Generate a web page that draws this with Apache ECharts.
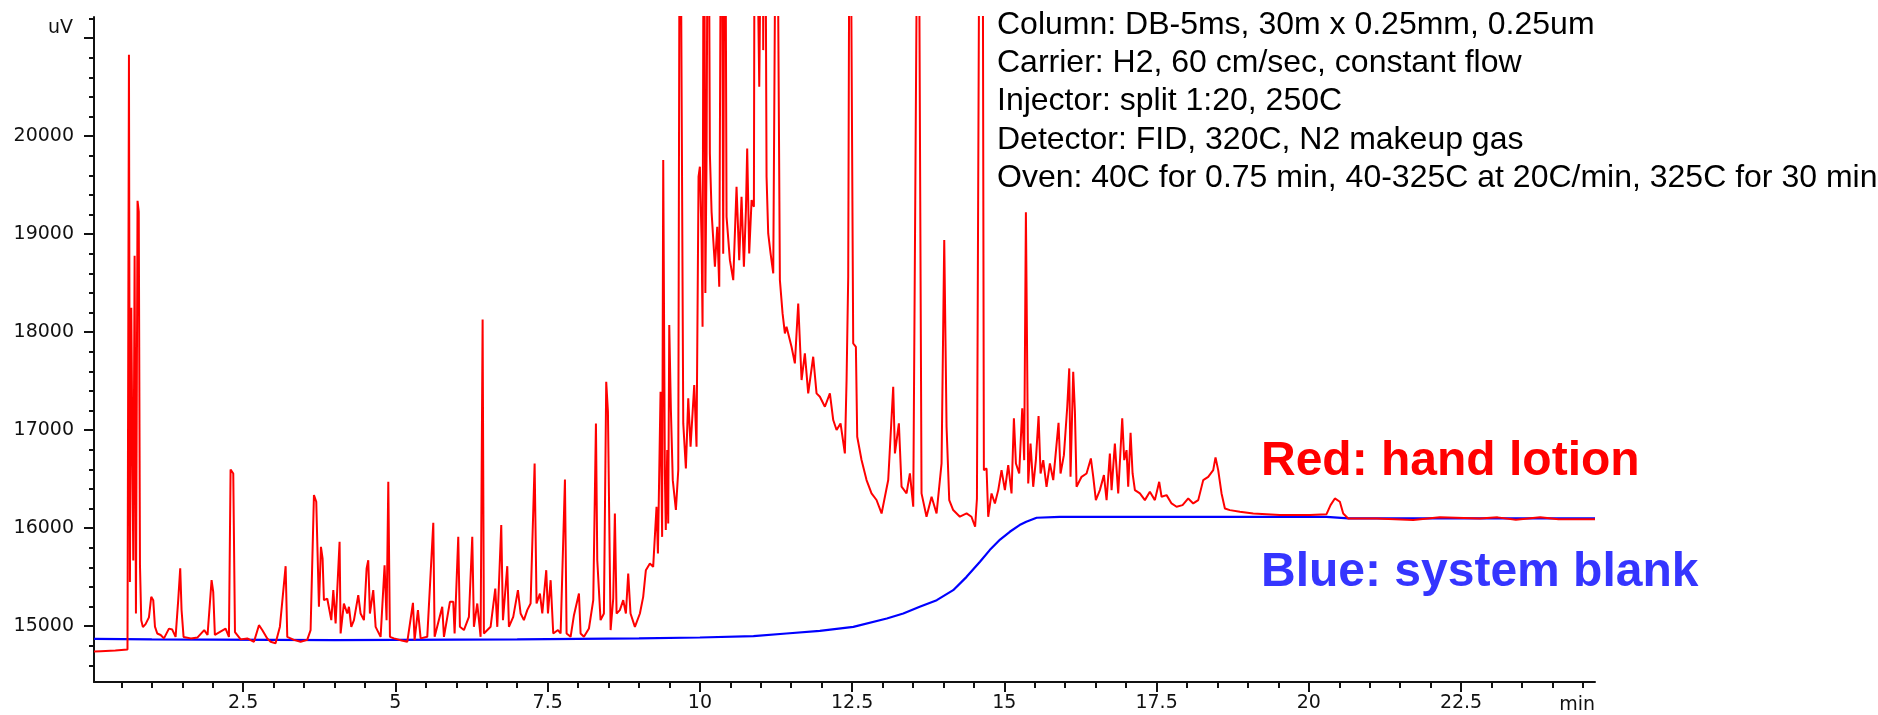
<!DOCTYPE html>
<html>
<head>
<meta charset="utf-8">
<script src="https://cdn.jsdelivr.net/npm/echarts@6/dist/echarts.min.js"></script>
<style>
  html, body { margin: 0; padding: 0; background: #fff; }
  #chart { width: 1878px; height: 715px; }
</style>
</head>
<body>
<div id="chart"></div>
<script>
// retention time (min), signal (uV)
const handLotion = [
  [0.05, 14740], [0.16, 14745], [0.17, 14750], [0.40, 14752], [0.41, 14760], [0.60, 14762], [0.615, 14770],
  [0.624, 20830], [0.640, 15450], [0.662, 18250], [0.695, 15670], [0.717, 18780], [0.739, 15130],
  [0.765, 19340], [0.785, 19230], [0.805, 15620], [0.826, 15060], [0.853, 14990], [0.897, 15020],
  [0.952, 15090], [0.990, 15300], [1.023, 15265], [1.051, 14995], [1.089, 14925], [1.144, 14910],
  [1.199, 14875], [1.281, 14975], [1.335, 14965], [1.390, 14890], [1.433, 15265], [1.466, 15590],
  [1.488, 15165], [1.521, 14890], [1.641, 14875], [1.751, 14885], [1.860, 14960], [1.915, 14910],
  [1.981, 15470], [2.008, 15350], [2.035, 14910], [2.211, 14975], [2.266, 14890], [2.293, 16598],
  [2.337, 16558], [2.365, 14940], [2.458, 14865], [2.567, 14875], [2.677, 14840], [2.759, 15010],
  [2.813, 14960], [2.895, 14875], [2.950, 14840], [3.032, 14825], [3.103, 14995], [3.197, 15612],
  [3.224, 14890], [3.333, 14860], [3.443, 14840], [3.552, 14860], [3.607, 14960], [3.662, 16337],
  [3.700, 16269], [3.744, 15197], [3.777, 15810], [3.804, 15690], [3.826, 15265], [3.881, 15280],
  [3.947, 15061], [3.980, 15367], [4.018, 15027], [4.083, 15860], [4.100, 14925], [4.154, 15231],
  [4.209, 15129], [4.237, 15197], [4.275, 14993], [4.319, 15061], [4.390, 15316], [4.428, 15129],
  [4.483, 15061], [4.527, 15589], [4.554, 15673], [4.581, 15129], [4.636, 15367], [4.675, 14993],
  [4.757, 14891], [4.822, 15622], [4.855, 15061], [4.883, 16473], [4.910, 14891], [4.976, 14875],
  [5.085, 14857], [5.195, 14840], [5.288, 15238], [5.315, 14857], [5.370, 15163], [5.414, 14875],
  [5.523, 14891], [5.622, 16054], [5.644, 14891], [5.769, 15197], [5.797, 14891], [5.895, 15248],
  [5.950, 15248], [5.972, 14925], [6.032, 15911], [6.059, 14993], [6.125, 14960], [6.207, 15095],
  [6.262, 15911], [6.289, 14993], [6.344, 15231], [6.399, 14891], [6.432, 18130], [6.453, 14925],
  [6.563, 14993], [6.640, 15384], [6.673, 14993], [6.738, 16031], [6.766, 15061], [6.837, 15612],
  [6.864, 14993], [6.935, 15095], [7.012, 15367], [7.056, 15129], [7.110, 15061], [7.165, 15163],
  [7.220, 15231], [7.286, 16660], [7.318, 15231], [7.373, 15333], [7.412, 15129], [7.477, 15571],
  [7.505, 15129], [7.549, 15469], [7.592, 14925], [7.669, 14960], [7.713, 14925], [7.784, 16497],
  [7.811, 14925], [7.877, 14891], [7.932, 15112], [8.014, 15333], [8.041, 14925], [8.096, 14891],
  [8.178, 14976], [8.249, 15265], [8.293, 17068], [8.315, 15673], [8.369, 15061], [8.424, 15129],
  [8.462, 17493], [8.490, 17187], [8.534, 14960], [8.577, 15282], [8.604, 16150], [8.632, 15129],
  [8.686, 15163], [8.741, 15265], [8.785, 15129], [8.823, 15537], [8.861, 15129], [8.933, 14993],
  [9.015, 15129], [9.069, 15299], [9.113, 15571], [9.179, 15639], [9.233, 15605], [9.288, 16218],
  [9.311, 15742], [9.354, 17392], [9.380, 15911], [9.398, 19756], [9.425, 16559], [9.440, 15980],
  [9.464, 16797], [9.480, 16047], [9.497, 18072], [9.524, 17205], [9.555, 16490], [9.606, 16185],
  [9.645, 16593], [9.672, 24000], [9.699, 24000], [9.727, 17069], [9.770, 16610], [9.809, 17324],
  [9.847, 16831], [9.907, 17460], [9.945, 16831], [9.978, 19586], [10.000, 19688], [10.028, 18939],
  [10.044, 18055], [10.066, 24000], [10.090, 18400], [10.110, 19824], [10.137, 24000], [10.164, 19824],
  [10.192, 19228], [10.247, 18667], [10.285, 19075], [10.318, 18463], [10.356, 24000], [10.383, 18800],
  [10.411, 24000], [10.438, 19177], [10.493, 18735], [10.548, 18531], [10.602, 19483], [10.646, 18735],
  [10.684, 19382], [10.723, 18667], [10.756, 19245], [10.777, 19875], [10.810, 18803], [10.849, 19347],
  [10.887, 19279], [10.903, 24000], [10.930, 24000], [10.975, 20504], [11.030, 24000], [11.040, 20878],
  [11.067, 24000], [11.095, 19585], [11.122, 19007], [11.161, 18803], [11.205, 18599], [11.259, 24000],
  [11.287, 24000], [11.314, 18531], [11.358, 18191], [11.396, 17987], [11.423, 18055], [11.505, 17851],
  [11.560, 17681], [11.615, 18293], [11.670, 17511], [11.724, 17783], [11.779, 17375], [11.861, 17749],
  [11.916, 17375], [11.971, 17341], [12.053, 17239], [12.135, 17375], [12.190, 17103], [12.245, 17001],
  [12.310, 17069], [12.381, 16763], [12.409, 17511], [12.436, 18565], [12.463, 24000], [12.491, 24000],
  [12.518, 17885], [12.562, 17851], [12.584, 16933], [12.655, 16695], [12.737, 16491], [12.819, 16355],
  [12.901, 16287], [12.984, 16150], [13.093, 16491], [13.175, 17443], [13.203, 16763], [13.268, 17069],
  [13.312, 16423], [13.394, 16355], [13.449, 16559], [13.504, 16219], [13.586, 24000], [13.613, 24000],
  [13.640, 16355], [13.722, 16117], [13.805, 16321], [13.887, 16150], [13.969, 16661], [14.013, 18939],
  [14.051, 17035], [14.095, 16287], [14.160, 16185], [14.270, 16117], [14.380, 16150], [14.460, 16116],
  [14.520, 16014], [14.550, 16300], [14.600, 24000], [14.640, 24000], [14.664, 16592], [14.708, 16609],
  [14.735, 16116], [14.790, 16354], [14.845, 16252], [14.900, 16388], [14.954, 16592], [15.009, 16388],
  [15.064, 16643], [15.118, 16354], [15.157, 17120], [15.190, 16660], [15.244, 16558], [15.294, 17222],
  [15.326, 16694], [15.354, 19224], [15.392, 16456], [15.430, 16864], [15.474, 16422], [15.518, 16694],
  [15.562, 17143], [15.595, 16558], [15.639, 16694], [15.693, 16422], [15.748, 16660], [15.803, 16490],
  [15.890, 17075], [15.923, 16558], [15.978, 16745], [16.033, 17239], [16.066, 17630], [16.087, 16524],
  [16.131, 17596], [16.159, 17188], [16.186, 16422], [16.268, 16524], [16.350, 16558], [16.421, 16711],
  [16.460, 16524], [16.503, 16286], [16.569, 16388], [16.635, 16541], [16.679, 16286], [16.733, 16762],
  [16.761, 16388], [16.815, 16864], [16.870, 16354], [16.936, 17120], [16.969, 16694], [17.007, 16796],
  [17.034, 16422], [17.073, 16973], [17.106, 16558], [17.144, 16388], [17.226, 16354], [17.308, 16286],
  [17.390, 16371], [17.472, 16286], [17.543, 16473], [17.582, 16320], [17.664, 16337], [17.746, 16252],
  [17.828, 16218], [17.927, 16235], [18.020, 16303], [18.102, 16252], [18.184, 16286], [18.266, 16490],
  [18.348, 16524], [18.430, 16592], [18.468, 16722], [18.512, 16592], [18.567, 16354], [18.622, 16201],
  [18.704, 16184], [18.868, 16167], [19.087, 16150], [19.306, 16143], [19.525, 16133], [19.744, 16133],
  [20.018, 16133], [20.291, 16143], [20.357, 16235], [20.428, 16303], [20.510, 16269], [20.565, 16150],
  [20.647, 16099], [21.112, 16099], [21.714, 16082], [22.152, 16110], [22.809, 16099], [23.100, 16110],
  [23.400, 16085], [23.800, 16110], [24.100, 16090], [24.700, 16090]
];

const systemBlank = [
  [0.05, 14870], [1.0, 14865], [2.0, 14862], [3.0, 14860], [4.0, 14858], [5.0, 14860], [6.0, 14862],
  [7.0, 14864], [8.0, 14870], [9.0, 14875], [10.0, 14884], [10.88, 14898], [11.42, 14925],
  [11.97, 14952], [12.52, 14993], [13.07, 15078], [13.34, 15129], [13.61, 15197], [13.89, 15265],
  [14.16, 15367], [14.38, 15503], [14.6, 15657], [14.76, 15776], [14.93, 15884], [15.09, 15963],
  [15.25, 16031], [15.36, 16065], [15.53, 16106], [15.91, 16116], [20.29, 16116], [20.65, 16100],
  [24.7, 16100]
];

const xMajorTicks = [2.5, 5, 7.5, 10, 12.5, 15, 17.5, 20, 22.5];
const xMinorTicks = [0.5, 1, 1.5, 2, 2.5, 3, 3.5, 4, 4.5, 5, 5.5, 6, 6.5, 7, 7.5, 8, 8.5, 9, 9.5, 10,
  10.5, 11, 11.5, 12, 12.5, 13, 13.5, 14, 14.5, 15, 15.5, 16, 16.5, 17, 17.5, 18, 18.5, 19, 19.5, 20,
  20.5, 21, 21.5, 22, 22.5, 23, 23.5, 24, 24.5];
const yMajorTicks = [15000, 16000, 17000, 18000, 19000, 20000, 21000];
const yLabels = [15000, 16000, 17000, 18000, 19000, 20000];
const yMinorTicks = [14600, 14800, 15000, 15200, 15400, 15600, 15800, 16000, 16200, 16400, 16600, 16800,
  17000, 17200, 17400, 17600, 17800, 18000, 18200, 18400, 18600, 18800, 19000, 19200, 19400, 19600,
  19800, 20000, 20200, 20400, 20600, 20800, 21000, 21200];

const conditions = [
  'Column: DB-5ms, 30m x 0.25mm, 0.25um',
  'Carrier: H2, 60 cm/sec, constant flow',
  'Injector: split 1:20, 250C',
  'Detector: FID, 320C, N2 makeup gas',
  'Oven: 40C for 0.75 min, 40-325C at 20C/min, 325C for 30 min'
];

const axisColor = '#111';
const tickFont = { fontFamily: 'DejaVu Sans', fontSize: 19, color: '#111' };

const chart = echarts.init(document.getElementById('chart'), null, { renderer: 'canvas' });

const textItems = conditions.map((t, i) => ({
  type: 'text',
  x: 997,
  y: 25 + i * 38.3,
  style: { text: t, font: '32px "Liberation Sans", Arial, sans-serif', fill: '#000', textAlign: 'left', textVerticalAlign: 'middle' }
}));

chart.setOption({
  animation: false,
  backgroundColor: '#fff',
  grid: { left: 94, right: 283, top: 17, bottom: 33, containLabel: false, outerBoundsMode: 'none' },
  xAxis: [
    {
      type: 'value', min: 0.05, max: 24.7, position: 'bottom',
      axisLine: { lineStyle: { color: axisColor, width: 2 } },
      axisTick: { customValues: xMajorTicks, length: 10, lineStyle: { color: axisColor, width: 2 } },
      axisLabel: Object.assign({ customValues: xMajorTicks, margin: 12, formatter: v => String(v) }, tickFont),
      splitLine: { show: false }
    },
    {
      type: 'value', min: 0.05, max: 24.7, position: 'bottom',
      axisLine: { show: false },
      axisTick: { customValues: xMinorTicks, length: 6, lineStyle: { color: axisColor, width: 2 } },
      axisLabel: { show: false },
      splitLine: { show: false }
    }
  ],
  yAxis: [
    {
      type: 'value', min: 14430, max: 21216, position: 'left',
      axisLine: { show: true, lineStyle: { color: axisColor, width: 2 } },
      axisTick: { show: true, customValues: yMajorTicks, length: 10, lineStyle: { color: axisColor, width: 2 } },
      axisLabel: Object.assign({ customValues: yLabels, margin: 20, formatter: v => String(v) }, tickFont),
      splitLine: { show: false }
    },
    {
      type: 'value', min: 14430, max: 21216, position: 'left',
      axisLine: { show: false },
      axisTick: { show: true, customValues: yMinorTicks, length: 5, lineStyle: { color: axisColor, width: 2 } },
      axisLabel: { show: false },
      splitLine: { show: false }
    }
  ],
  series: [
    {
      name: 'Blue: system blank', type: 'line', data: systemBlank,
      showSymbol: false, symbol: 'none', clip: true,
      lineStyle: { color: '#0000ff', width: 2.2 }
    },
    {
      name: 'Red: hand lotion', type: 'line', data: handLotion,
      showSymbol: false, symbol: 'none', clip: true,
      lineStyle: { color: '#ff0000', width: 2 }
    }
  ],
  graphic: textItems.concat([
    { type: 'text', x: 73, y: 28, style: { text: 'uV', font: '19px "DejaVu Sans"', fill: '#111', textAlign: 'right', textVerticalAlign: 'middle' } },
    { type: 'text', x: 1595, y: 705, style: { text: 'min', font: '19px "DejaVu Sans"', fill: '#111', textAlign: 'right', textVerticalAlign: 'middle' } },
    { type: 'text', x: 1261, y: 462, style: { text: 'Red: hand lotion', font: 'bold 48px "Liberation Sans", Arial, sans-serif', fill: '#ff0000', textAlign: 'left', textVerticalAlign: 'middle' } },
    { type: 'text', x: 1261, y: 573, style: { text: 'Blue: system blank', font: 'bold 48px "Liberation Sans", Arial, sans-serif', fill: '#3535ff', textAlign: 'left', textVerticalAlign: 'middle' } }
  ])
});
</script>
</body>
</html>
